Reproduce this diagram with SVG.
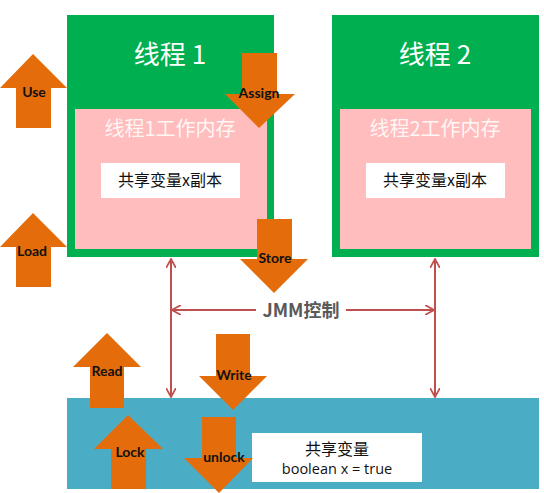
<svg xmlns="http://www.w3.org/2000/svg" width="544" height="493" viewBox="0 0 544 493">
<style>
.green{fill:#00B050}
.pink{fill:#FFBDBD}
.white{fill:#FFFFFF}
.blue{fill:#4BACC6}
.arr{fill:#E46C0A}
.title{font-family:"Noto Sans CJK SC","Noto Sans",sans-serif;fill:#fff;font-size:26px;text-anchor:middle}
.sub{font-family:"Noto Sans CJK SC","Noto Sans",sans-serif;fill:#fff;fill-opacity:0.88;font-size:20px;text-anchor:middle}
.cn{font-family:"Noto Sans CJK SC","Noto Sans",sans-serif;fill:#111;font-size:16px;text-anchor:middle}
.lbl{font-family:Lato,"Liberation Sans",sans-serif;font-weight:bold;fill:#111;font-size:14px;text-anchor:middle}
.line{stroke:#C0504D;stroke-width:2;fill:none}
.jmm{font-family:"Noto Sans CJK SC","Noto Sans",sans-serif;font-weight:bold;fill:#595959;font-size:18px;text-anchor:middle}
</style>
<defs>
<marker id="chev" viewBox="0 0 10 10" refX="9" refY="5" markerWidth="10" markerHeight="10" markerUnits="userSpaceOnUse" orient="auto-start-reverse">
<path d="M0,0 L9,5 L0,10" fill="none" stroke="#C0504D" stroke-width="1.8"/>
</marker>
</defs>
<rect width="544" height="493" fill="#fff"/>
<g id="thread1">
<rect class="green" x="67" y="15" width="207" height="242"/>
<rect class="pink" x="75" y="109" width="192" height="140"/>
<rect class="white" x="101" y="163" width="139" height="35"/>
<text class="title" x="170" y="64">线程 1</text>
<text class="sub" x="170" y="136">线程1工作内存</text>
<text class="cn" x="170" y="186">共享变量x副本</text>
</g>
<g id="thread2">
<rect class="green" x="332" y="15" width="207" height="242"/>
<rect class="pink" x="340" y="109" width="191" height="140"/>
<rect class="white" x="366" y="163" width="139" height="35"/>
<text class="title" x="435" y="64">线程 2</text>
<text class="sub" x="435" y="136">线程2工作内存</text>
<text class="cn" x="435" y="186">共享变量x副本</text>
</g>
<g id="mainmem">
<rect class="blue" x="67" y="398" width="472" height="91"/>
<rect class="white" x="252" y="433" width="170" height="49"/>
<text class="cn" x="337" y="455">共享变量</text>
<text class="cn" x="337" y="474" style="font-family:'Open Sans','Noto Sans',sans-serif;font-size:14.5px">boolean x = true</text>
</g>
<g id="connectors">
<line class="line" x1="171" y1="259" x2="171" y2="397" marker-start="url(#chev)" marker-end="url(#chev)"/>
<line class="line" x1="435" y1="259" x2="435" y2="397" marker-start="url(#chev)" marker-end="url(#chev)"/>
<line class="line" x1="256" y1="310" x2="172" y2="310" marker-end="url(#chev)"/>
<line class="line" x1="346" y1="310" x2="434" y2="310" marker-end="url(#chev)"/>
</g>
<g id="jmm">
<text class="jmm" x="301" y="317">JMM控制</text>
</g>
<g id="use"><polygon class="arr" points="33,54 67,88 51,88 51,128 16,128 16,88 0,88"/><text class="lbl" x="34" y="97">Use</text></g>
<g id="load"><polygon class="arr" points="33,213 67,247 51,247 51,287 16,287 16,247 0,247"/><text class="lbl" x="32" y="256">Load</text></g>
<g id="assign"><polygon class="arr" points="242,53 277,53 277,94 295,94 259,128 225,94 242,94"/><text class="lbl" x="259" y="98">Assign</text></g>
<g id="store"><polygon class="arr" points="257,219 292,219 292,259 308,259 274,293 240,259 257,259"/><text class="lbl" x="275" y="263">Store</text></g>
<g id="read"><polygon class="arr" points="107,333 141,367 124,367 124,408 90,408 90,367 73,367"/><text class="lbl" x="107" y="376">Read</text></g>
<g id="write"><polygon class="arr" points="216,334 250,334 250,376 267,376 233,410 199,376 216,376"/><text class="lbl" x="234" y="380">Write</text></g>
<g id="lock"><polygon class="arr" points="128,415 163,449 146,449 146,489 111,489 111,449 94,449"/><text class="lbl" x="130" y="457">Lock</text></g>
<g id="unlock"><polygon class="arr" points="202,417 236,417 236,458 253,458 219,493 184,458 202,458"/><text class="lbl" x="224" y="462">unlock</text></g>
</svg>
